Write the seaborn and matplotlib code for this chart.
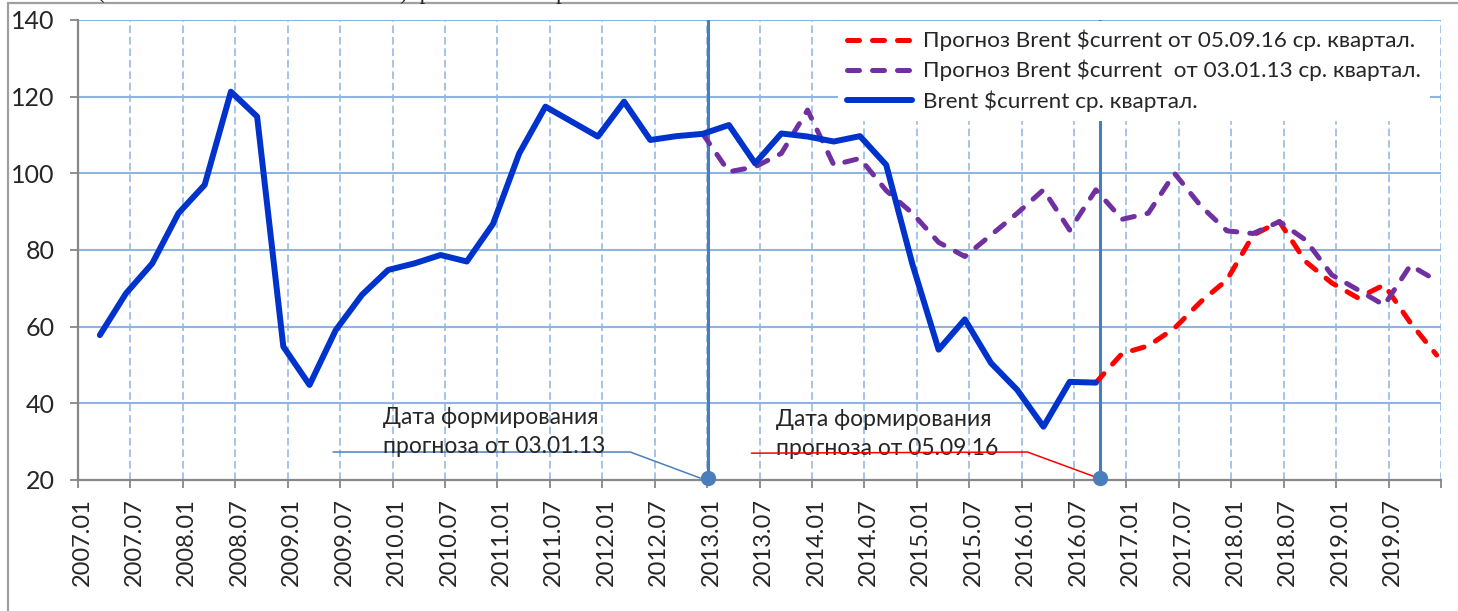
import numpy as np
import pandas as pd
import matplotlib
matplotlib.use('Agg')
import matplotlib.pyplot as plt
import matplotlib.transforms as mtransforms
from matplotlib.lines import Line2D
import seaborn as sns

# x axis: quarter units counted from 2007.01, label every half year
tick_labels = ['2007.01', '2007.07', '2008.01', '2008.07', '2009.01', '2009.07',
               '2010.01', '2010.07', '2011.01', '2011.07', '2012.01', '2012.07',
               '2013.01', '2013.07', '2014.01', '2014.07', '2015.01', '2015.07',
               '2016.01', '2016.07', '2017.01', '2017.07', '2018.01', '2018.07',
               '2019.01', '2019.07']

# Brent $current, quarterly average, 2007 Q1 .. 2016 Q3
brent_start = 0
brent = [57.8, 68.7, 76.5, 89.6, 97.0, 121.3, 114.8, 54.8, 44.8, 59.1,
         68.3, 74.8, 76.5, 78.7, 77.0, 86.8, 105.2, 117.4, 113.5, 109.6,
         118.7, 108.7, 109.7, 110.3, 112.6, 102.6, 110.4, 109.6, 108.3, 109.7,
         102.2, 76.3, 54.0, 61.9, 50.5, 43.5, 33.9, 45.6, 45.4]

# forecast of 03.01.13, 2012 Q4 .. 2019 Q4
f13_start = 23
f13 = [110.3, 100.4, 101.7, 105.2, 116.5, 102.2, 103.9, 95.5, 89.6, 82.0,
       78.3, 83.9, 89.6, 95.7, 85.2, 95.7, 88.0, 89.6, 100.0, 91.5,
       85.0, 84.3, 87.4, 82.6, 73.5, 69.6, 65.6, 76.0, 72.0]

# forecast of 05.09.16, 2016 Q3 .. 2019 Q4
f16_start = 38
f16 = [45.4, 53.0, 55.0, 59.6, 66.5, 72.2, 83.9, 87.4, 77.0, 71.4,
       67.5, 70.9, 61.0, 52.6]

# forecast formation dates (quarter units)
date_13 = 24.05
date_16 = 39.0

labels = ['Прогноз Brent $current от 05.09.16 ср. квартал.',
          'Прогноз Brent $current  от 03.01.13 ср. квартал.',
          'Brent $current ср. квартал.']


def quarters(start, values):
    # points sit at the middle of the last month of each quarter
    return pd.DataFrame({'x': np.arange(len(values)) + start + 5 / 6, 'y': values})


sns.set_style('white')
plt.rcParams['font.family'] = ['Lato', 'DejaVu Sans']

W, H = 1458, 611
fig = plt.figure(figsize=(W / 100, H / 100), dpi=100)
ax = fig.add_axes([78 / W, 1 - 480 / H, (1441 - 78) / W, 460 / H])

grid_col = '#8DB4E2'
axis_col = '#878787'
blue = '#0033CC'
red = '#FF0000'
purple = '#7030A0'
marker_col = '#4A7EBB'

for v in range(40, 141, 20):
    ax.axhline(v, color=grid_col, lw=1.5, zorder=0)
ax.set_xticks(range(0, 53, 2))
ax.set_xticklabels(tick_labels + [''], rotation=90)
ax.grid(axis='x', color=grid_col, lw=1.1, linestyle=(0, (5, 2.5)), zorder=0)
ax.set_yticks(range(20, 141, 20))
ax.set_xlim(0, 52)
ax.set_ylim(20, 140)

# forecast date markers
ax.plot([date_13, date_13], [20, 140], color=marker_col, lw=2.2, zorder=1)
ax.plot([date_16, date_16], [20, 140], color=marker_col, lw=2.2, zorder=1)
ax.plot([date_13, date_16], [20.4, 20.4], 'o', color=marker_col, ms=10,
        zorder=6, clip_on=False)

d16 = quarters(f16_start, f16)
d13 = quarters(f13_start, f13)
db = quarters(brent_start, brent)
sns.lineplot(data=d16, x='x', y='y', ax=ax, color=red, lw=3.6,
             linestyle=(0, (2.4, 2.6)), dash_capstyle='round', zorder=3)
h16 = ax.lines[-1]
sns.lineplot(data=d13, x='x', y='y', ax=ax, color=purple, lw=3.6,
             linestyle=(0, (2.4, 2.6)), dash_capstyle='round', zorder=3)
h13 = ax.lines[-1]
sns.lineplot(data=db, x='x', y='y', ax=ax, color=blue, lw=4.3,
             solid_joinstyle='round', solid_capstyle='round', zorder=4)
hb = ax.lines[-1]

# callouts
ax.plot([9.73, 21.07, 23.74], [27.3, 27.3, 20.5], color=marker_col, lw=1.1, zorder=2)
ax.text(11.64, 32.6, 'Дата формирования\nпрогноза от 03.01.13', fontsize=16.5,
        ha='left', va='center', linespacing=1.45, zorder=2)
ax.plot([25.69, 36.22, 38.93], [27.0, 27.3, 20.5], color=red, lw=1.1, zorder=5)
ax.text(26.64, 32.0, 'Дата формирования\nпрогноза от 05.09.16', fontsize=16.5,
        ha='left', va='center', linespacing=1.45, zorder=2)

leg = ax.legend(handles=[h16, h13, hb], labels=labels, loc='upper right',
                bbox_to_anchor=((1430 - 78) / 1363, 0.998), fontsize=16.2,
                frameon=True, facecolor='white', edgecolor='none', framealpha=1,
                fancybox=False, handlelength=2.9, handletextpad=0.5,
                labelspacing=0.38, borderpad=0.4, borderaxespad=0)
leg.set_zorder(10)

for s in ['top', 'right']:
    ax.spines[s].set_visible(False)
for s in ['left', 'bottom']:
    ax.spines[s].set_color(axis_col)
    ax.spines[s].set_linewidth(1.6)
    ax.spines[s].set_zorder(5)
ax.tick_params(axis='y', direction='out', length=6, width=1.3, color=axis_col,
               labelsize=18, pad=11, left=True)
ax.tick_params(axis='x', direction='out', length=6, width=1.3, color=axis_col,
               labelsize=17, pad=7, bottom=True)
shift = mtransforms.ScaledTranslation(4 / 100, 0, fig.dpi_scale_trans)
for lab in ax.get_xticklabels():
    lab.set_transform(lab.get_transform() + shift)
ax.set_xlabel('')
ax.set_ylabel('')

# outer frame and the cut-off line of text above the chart
fig.add_artist(Line2D([8 / W, 8 / W], [0, 1 - 3 / H], color='#A0A0A0', lw=1.6))
fig.add_artist(Line2D([8 / W, 1], [1 - 3 / H, 1 - 3 / H], color='#A0A0A0', lw=1.6))
fig.text(97 / W, 1 + 1.5 / H, '(', fontsize=17, family='Liberation Serif', va='baseline')
fig.text(400 / W, 1 + 1.5 / H, ')  р', fontsize=17, family='Liberation Serif', va='baseline')
fig.text(556 / W, 1 + 1.5 / H, 'р', fontsize=17, family='Liberation Serif', va='baseline')

fig.savefig('out.png', dpi=100)
